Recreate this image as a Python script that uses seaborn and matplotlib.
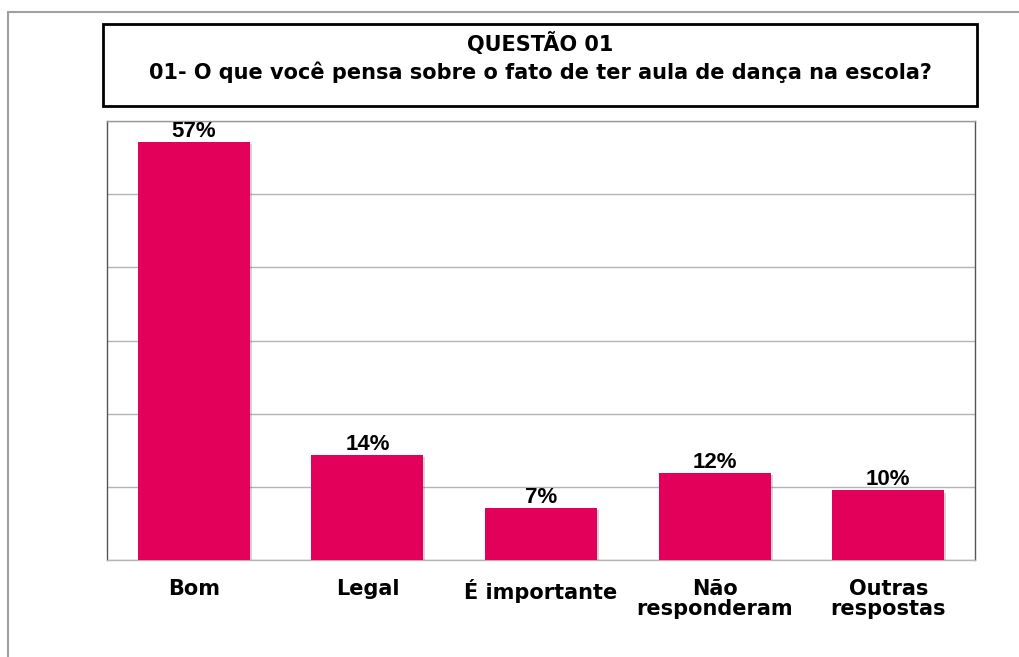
import matplotlib
matplotlib.use("Agg")
import matplotlib.pyplot as plt
import matplotlib.patheffects as pe
import seaborn as sns
import pandas as pd
from matplotlib.lines import Line2D
from matplotlib.patches import Rectangle

categories = ["Bom", "Legal", "É importante", "Não\nresponderam", "Outras\nrespostas"]
values = [57.1, 14.3, 7.1, 11.9, 9.5]
labels = ["57%", "14%", "7%", "12%", "10%"]
title_lines = ["QUESTÃO 01", "01- O que você pensa sobre o fato de ter aula de dança na escola?"]

sns.set_theme(style="white")
plt.rcParams["font.family"] = ["Liberation Sans", "DejaVu Sans"]
plt.rcParams["text.color"] = "black"

WIDE = ["DejaVu Sans"]

df = pd.DataFrame({"cat": categories, "val": values})

fig = plt.figure(figsize=(10.2, 6.57), dpi=100)
ax = fig.add_axes([107/1020, 1-560/657, 868/1020, 439/657])

sns.barplot(data=df, x="cat", y="val", color="#E2005A", saturation=1,
            width=0.645, ax=ax, zorder=3, edgecolor="none")

for p in ax.patches:
    p.set_path_effects([pe.SimplePatchShadow(offset=(1.5, -1.5), alpha=0.25, shadow_rgbFace="#555555"),
                        pe.Normal()])

ax.set_ylim(0, 60)
ax.set_xlim(-0.5, 4.5)
ax.set_yticks(range(0, 61, 10))
ax.set_yticklabels([])
ax.tick_params(axis="y", length=0)
ax.tick_params(axis="x", length=0, pad=14)
ax.yaxis.grid(True, color="#b4b4b4", linewidth=1, zorder=0)
ax.set_xlabel("")
ax.set_ylabel("")
for lab in ax.get_xticklabels():
    lab.set_fontsize(15)
    lab.set_fontweight("bold")
    lab.set_family(WIDE)
    lab.set_color("black")
    lab.set_linespacing(1.0)
    lab.set_verticalalignment("top")

for s, c in [("left", "#555555"), ("right", "#555555"), ("top", "#9a9a9a"), ("bottom", "#b4b4b4")]:
    ax.spines[s].set_visible(True)
    ax.spines[s].set_color(c)
    ax.spines[s].set_linewidth(1)

for p, t in zip(ax.patches, labels):
    ax.annotate(t, (p.get_x() + p.get_width()/2, p.get_height()),
                xytext=(0, 0), textcoords="offset points",
                ha="center", va="bottom", fontsize=16, fontweight="bold", color="black")

# title box
fig.add_artist(Rectangle((103/1020, 1-106/657), 874/1020, 82/657,
                         transform=fig.transFigure, fill=False,
                         edgecolor="black", linewidth=2))
fig.text(540/1020, 1-43/657, title_lines[0], ha="center", va="center",
         fontsize=15, fontweight="bold", family=WIDE, color="black")
fig.text(540/1020, 1-72/657, title_lines[1], ha="center", va="center",
         fontsize=15, fontweight="bold", family=WIDE, color="black")

# outer frame
fig.add_artist(Line2D([8/1020, 1], [1-12/657, 1-12/657], transform=fig.transFigure,
                      color="#a0a0a0", linewidth=1.5))
fig.add_artist(Line2D([8/1020, 8/1020], [0, 1-12/657], transform=fig.transFigure,
                      color="#a0a0a0", linewidth=1.5))

fig.savefig("out.png", dpi=100)
